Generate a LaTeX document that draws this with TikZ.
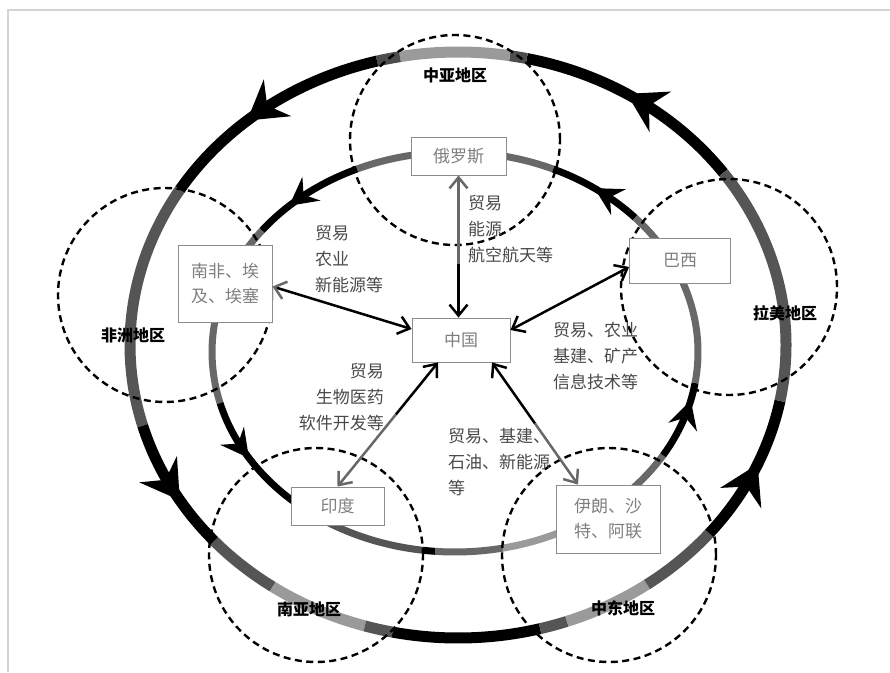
\documentclass[tikz,border=0pt]{standalone}
\usepackage{fontspec}
\newfontfamily\cjk{Noto Sans CJK SC}
\usetikzlibrary{arrows.meta,calc}
\definecolor{sg}{HTML}{555555}
\definecolor{dg}{HTML}{4D4D4D}
\definecolor{mg}{HTML}{686868}
\definecolor{lg}{HTML}{9A9A9A}
\definecolor{boxtext}{HTML}{7F7F7F}
\definecolor{boxline}{HTML}{8C8C8C}
\definecolor{lbl}{HTML}{4A4A4A}
\definecolor{framec}{HTML}{D4D4D4}
\newcommand\ringO[3]{\draw[outerring,#3] (458,345) ++(-#1:328 and 293) arc[start angle=-#1,end angle=-#2,x radius=328,y radius=293];}
\newcommand\ringI[3]{\draw[innerring,#3] (455,352) ++(-#1:243 and 200) arc[start angle=-#1,end angle=-#2,x radius=243,y radius=200];}
% kite-shaped arrowhead on an ellipse: centre x, centre y, rx, ry, angle, length, width, inset
\newcommand\kite[8]{%
  \pgfmathsetmacro\kx{#1+#3*cos(#5)}%
  \pgfmathsetmacro\ky{#2-#4*sin(#5)}%
  \pgfmathsetmacro\kr{-atan2(-#4*cos(#5),-#3*sin(#5))}%
  \fill[black,shift={(\kx,\ky)},rotate=\kr] (0,0) -- (-#6,#7/2) -- (-#6+#8,0) -- (-#6,-#7/2) -- cycle;}
\newcommand\tipO[1]{\kite{458}{345}{328}{293}{#1}{38}{46}{13}}
\newcommand\tipI[1]{\kite{455}{352}{243}{200}{#1}{28}{30}{10}}
\begin{document}
\begin{tikzpicture}[x=1pt,y=-1pt,
  outerring/.style={line width=11pt},
  innerring/.style={line width=7pt},
  region/.style={circle,draw=black,line width=2.4pt,dash pattern=on 7pt off 4.5pt,inner sep=0pt},
  country/.style={draw=boxline,line width=0.9pt,fill=white,inner sep=0pt,text=boxtext,align=center,font={\cjk\fontsize{17}{25}\selectfont}},
  conn/.style={line width=2.5pt},
  tipb/.style={-{Straight Barb[length=11pt,width=18pt]}},
  lbltext/.style={inner sep=0pt,text=lbl,font={\cjk\fontsize{17}{25.8}\selectfont}},
  regionname/.style={inner sep=0pt,text=black,font={\cjk\bfseries\fontsize{16}{18}\selectfont}}
]
\useasboundingbox (0,0) rectangle (890,672);
\fill[white] (0,0) rectangle (890,672);
\draw[framec,line width=1.5pt] (8,672) -- (8,10) -- (890,10);

% outer ring
\ringO{36}{77.9}{black}
\ringO{77.9}{80.9}{dg}
\ringO{80.9}{100.2}{lg}
\ringO{100.2}{104.3}{dg}
\ringO{104.3}{148}{black}
\ringO{148}{196}{sg}
\ringO{196}{222}{black}
\ringO{222}{235.6}{sg}
\ringO{235.6}{253.5}{lg}
\ringO{253.5}{258.5}{sg}
\ringO{258.5}{284.5}{black}
\ringO{284.5}{289.4}{sg}
\ringO{289.4}{305.2}{lg}
\ringO{305.2}{320}{sg}
\ringO{320}{349}{black}
\ringO{349}{396}{sg}
\tipO{59}
\tipO{130}
\tipO{212}
\tipO{336}

% inner ring
\ringI{42.2}{66.2}{black}
\ringI{66.2}{113.8}{mg}
\ringI{113.8}{142.6}{black}
\ringI{142.6}{194.8}{mg}
\ringI{194.8}{234.6}{black}
\ringI{234.6}{262.4}{sg}
\ringI{262.4}{265.3}{black}
\ringI{265.3}{281.4}{mg}
\ringI{281.4}{300}{lg}
\ringI{300}{328.9}{mg}
\ringI{328.9}{351.1}{black}
\ringI{351.1}{402.2}{mg}
\tipI{55}
\tipI{133}
\tipI{212}
\tipI{346}

% regions
\node[region,minimum size=210pt] (rca) at (455,140) {};
\node[region,minimum size=214pt] (raf) at (165,295) {};
\node[region,minimum size=216pt] (rla) at (729,287) {};
\node[region,minimum size=214pt] (rsa) at (316,555) {};
\node[region,minimum size=214pt] (rme) at (609,555) {};

% countries
\node[country,minimum width=95pt,minimum height=38pt] (ru) at (458.5,156) {俄罗斯};
\node[country,minimum width=94pt,minimum height=77pt] (af) at (225,283.5) {南非、埃\\及、埃塞};
\node[country,minimum width=98pt,minimum height=44pt] (cn) at (461,340) {中国};
\node[country,minimum width=101pt,minimum height=45pt] (br) at (680,260.5) {巴西};
\node[country,minimum width=93pt,minimum height=38pt] (in) at (337.5,506) {印度};
\node[country,minimum width=104pt,minimum height=68pt] (ir) at (608,519) {伊朗、沙\\特、阿联};

% connectors
\coordinate (ruS) at ($(ru.south)!0.62!(ru.south |- cn.north)$);
\draw[conn,mg,tipb] (ruS) -- (ru.south);
\draw[conn,black,tipb] (ruS) -- (ru.south |- cn.north);

\draw[conn,{Straight Barb[length=11pt,width=18pt,color=mg]}-{Straight Barb[length=11pt,width=18pt]}] ([yshift=-3pt]af.east) -- ([yshift=11pt]cn.west);
\draw[conn,{Straight Barb[length=11pt,width=18pt]}-{Straight Barb[length=11pt,width=18pt]}] ([yshift=10pt]cn.east) -- ([yshift=-6.5pt]br.west);

\coordinate (inS) at ($([xshift=-23pt]cn.south)!0.42!(in.north)$);
\draw[conn,black,tipb] (inS) -- ([xshift=-23pt]cn.south);
\draw[conn,mg,tipb] (inS) -- (in.north);

\coordinate (irS) at ($([xshift=31pt]cn.south)!0.5!([xshift=-30pt]ir.north)$);
\draw[conn,black,tipb] (irS) -- ([xshift=31pt]cn.south);
\draw[conn,mg,tipb] (irS) -- ([xshift=-30pt]ir.north);

% labels
\node[lbltext,anchor=north west,align=left] (lru) at (468,195) {贸易\\能源\\航空航天等};
\node[lbltext,anchor=north west,align=left] (laf) at (315,225) {贸易\\农业\\新能源等};
\node[lbltext,anchor=north west,align=left] (lbr) at (553,322) {贸易、农业\\基建、矿产\\信息技术等};
\node[lbltext,anchor=north east,align=right] (lin) at (384,363) {贸易\\生物医药\\软件开发等};
\node[lbltext,anchor=north west,align=left] (lir) at (448,428) {贸易、基建、\\石油、新能源\\等};

\node[regionname] (nca) at (455,75) {中亚地区};
\node[regionname] (naf) at (133,335) {非洲地区};
\node[regionname] (nla) at (785,313) {拉美地区};
\node[regionname] (nsa) at (309,609) {南亚地区};
\node[regionname] (nme) at (623,608) {中东地区};
\end{tikzpicture}
\end{document}
